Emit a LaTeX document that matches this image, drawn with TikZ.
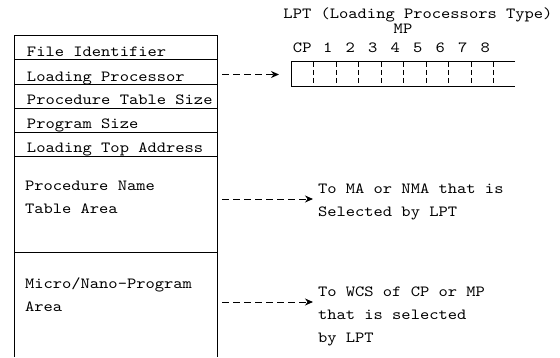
\documentclass[tikz,border=0pt]{standalone}
\usepackage{fontspec}
\setmonofont[FakeStretch=1.14]{lmmono10-regular.otf}
\usetikzlibrary{positioning}
\usetikzlibrary{arrows.meta}
\tikzstyle{field} = [draw, line width=1pt, minimum width=203pt]
\tikzstyle{frame} = [line width=1pt]
\tikzstyle{lbl} = [anchor=base west, font=\ttfamily\fontsize{15.5}{23}\selectfont]
\tikzstyle{ptr} = [line width=1pt, dash pattern=on 7pt off 4pt, -{Stealth[length=8pt,width=7pt]}]
\tikzstyle{divider} = [line width=.8pt, dash pattern=on 5pt off 3pt]

\begin{document}
\begin{tikzpicture}[
  x=1pt, y=1pt,
  every node/.style={inner sep=0pt, outer sep=0pt},
]
\useasboundingbox (0,0) rectangle (560,357);
\node[field, minimum height=24pt, anchor=north west] (fid) at (14,321) {};
\node[field, minimum height=25pt, below=0pt of fid] (lproc) {};
\node[field, minimum height=23pt, below=0pt of lproc] (ptsize) {};
\node[field, minimum height=24pt, below=0pt of ptsize] (psize) {};
\node[field, minimum height=24pt, below=0pt of psize] (ltop) {};
\node[field, minimum height=96pt, below=0pt of ltop] (pnarea) {};
\node[minimum width=203pt, minimum height=105pt, below=0pt of pnarea] (mparea) {};
\draw[frame] (mparea.north west) -- (mparea.south west);
\draw[frame] (mparea.north east) -- (mparea.south east);

\node[lbl] (tfid) at ([xshift=13pt, yshift=4pt]fid.south west) {File Identifier};
\node[lbl] (tlproc) at ([xshift=13pt, yshift=4pt]lproc.south west) {Loading Processor};
\node[lbl] (tptsize) at ([xshift=13pt, yshift=4pt]ptsize.south west) {Procedure Table Size};
\node[lbl] (tpsize) at ([xshift=13pt, yshift=4pt]psize.south west) {Program Size};
\node[lbl] (tltop) at ([xshift=13pt, yshift=4pt]ltop.south west) {Loading Top Address};
\node[lbl, anchor=north west, align=left] (tpn) at ([xshift=11pt, yshift=-25pt]pnarea.north west) {Procedure Name\\Table Area};
\node[lbl, anchor=north west, align=left] (tmp) at ([xshift=11pt, yshift=-26pt]mparea.north west) {Micro/Nano-Program\\Area};

\node[minimum width=224pt, minimum height=25pt, anchor=west] (lpt) at (291,282.5) {};
\draw[frame] (lpt.north east) -- (lpt.north west) -- (lpt.south west) -- (lpt.south east);
\foreach \i in {1,...,9}
  \draw[divider] ([xshift={22.5pt*\i}]lpt.north west) -- ([xshift={22.5pt*\i}]lpt.south west);
\node[lbl, anchor=base] (lcp) at ([xshift=11.25pt, yshift=10pt]lpt.north west) {CP};
\foreach \n in {1,...,8}
  \node[lbl, anchor=base] (l\n) at ([xshift={14.25pt+22.5pt*\n}, yshift=10pt]lpt.north west) {\n};
\node[lbl, anchor=base] (lmp) at ([xshift=112pt, yshift=28pt]lpt.north west) {MP};
\node[lbl, anchor=base] (ltitle) at ([xshift=127pt, yshift=43pt]lpt.north west) {LPT (Loading Processors Type)};

\node[lbl, anchor=north west, align=left] (tma) at (318,173) {To MA or NMA that is\\Selected by LPT};
\node[lbl, anchor=north west, align=left] (twcs) at (318,70) {To WCS of CP or MP\\that is selected\\by LPT};
\coordinate (mahead) at ([xshift=-5pt, yshift=-15pt]tma.north west);
\coordinate (wcshead) at ([xshift=-5pt, yshift=-15pt]twcs.north west);

\draw[ptr] ([xshift=5pt]lproc.east |- lpt.west) -- ([xshift=-12pt]lpt.west);
\draw[ptr] ([xshift=5pt]pnarea.east |- mahead) -- (mahead);
\draw[ptr] ([xshift=5pt]mparea.east |- wcshead) -- (wcshead);
\end{tikzpicture}
\end{document}
